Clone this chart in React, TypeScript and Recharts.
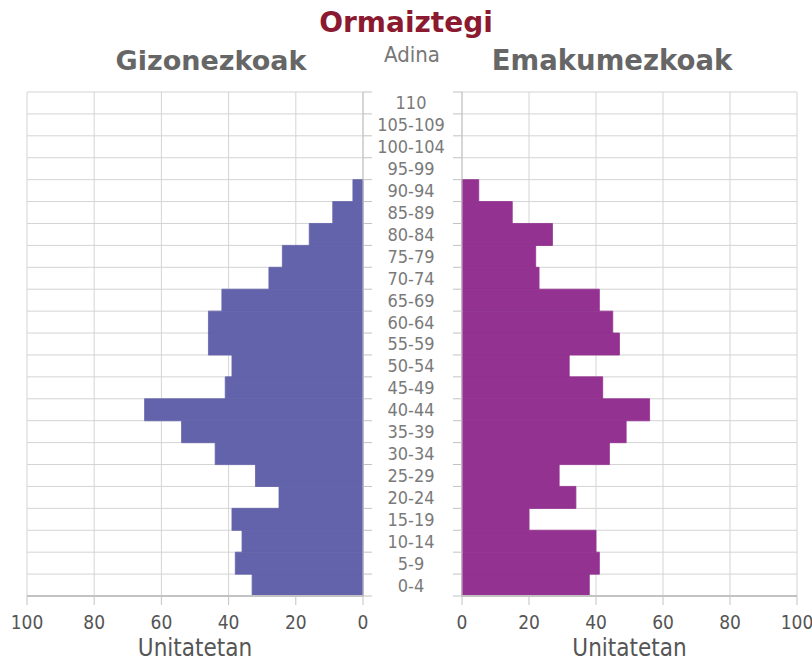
import { BarChart, Bar, XAxis, YAxis, CartesianGrid } from 'recharts';

// Age groups, top to bottom
const ageGroups = [
  '110', '105-109', '100-104', '95-99', '90-94', '85-89', '80-84', '75-79',
  '70-74', '65-69', '60-64', '55-59', '50-54', '45-49', '40-44', '35-39',
  '30-34', '25-29', '20-24', '15-19', '10-14', '5-9', '0-4',
];
const maleValues = [0, 0, 0, 0, 3, 9, 16, 24, 28, 42, 46, 46, 39, 41, 65, 54, 44, 32, 25, 39, 36, 38, 33];
const femaleValues = [0, 0, 0, 0, 5, 15, 27, 22, 23, 41, 45, 47, 32, 42, 56, 49, 44, 29, 34, 20, 40, 41, 38];

const xTicks = [0, 20, 40, 60, 80, 100];

const chartData = ageGroups.map((age, i) => ({
  age,
  male: maleValues[i],
  female: femaleValues[i],
}));

const FONT = "'DejaVu Sans Condensed', 'DejaVu Sans', sans-serif";
const BOLD_FONT = "'DejaVu Sans', sans-serif";
const MALE_COLOR = '#6363ab';
const FEMALE_COLOR = '#933291';
const GRID_COLOR = '#d4d4d4';
const AXIS_COLOR = '#c2c2c2';
const TICK_COLOR = '#555';

// horizontal grid lines sit on the edges of the age bands
const bandEdges = ({ yAxis }: any) => {
  const scale = yAxis?.scale;
  if (!scale) return [];
  const f = typeof scale === 'function' ? scale : (v: string) => scale.map(v);
  const bw = typeof scale.bandwidth === 'function' ? scale.bandwidth() : 0;
  const edges = ageGroups.map((a) => f(a));
  edges.push(f(ageGroups[ageGroups.length - 1]) + bw);
  return edges;
};

// small tick marks on band edges, optional label in the middle column
const AgeTick = ({ y, payload, index, markFrom, markTo, labelX }: any) => {
  const half = payload?.offset ?? 0;
  const last = index === ageGroups.length - 1;
  return (
    <g>
      <line x1={markFrom} x2={markTo} y1={y - half} y2={y - half} stroke={AXIS_COLOR} />
      {last && <line x1={markFrom} x2={markTo} y1={y + half} y2={y + half} stroke={AXIS_COLOR} />}
      {labelX !== undefined && (
        <text
          x={labelX}
          y={y}
          dy="0.36em"
          textAnchor="middle"
          fill="#7a7a7a"
          fontSize={18}
          fontFamily={FONT}
        >
          {payload.value}
        </text>
      )}
    </g>
  );
};

const xTickStyle = { fill: TICK_COLOR, fontSize: 19, fontFamily: FONT };
const unitLabel = {
  value: 'Unitatetan',
  position: 'insideBottom' as const,
  offset: 0,
  fill: '#555',
  fontSize: 24,
  fontFamily: FONT,
};

export default function App() {
  return (
    <div style={{ position: 'absolute', left: 0, top: 0, width: 812, height: 661, background: '#fff', fontFamily: FONT }}>
      <svg width={812} height={90} style={{ position: 'absolute', left: 0, top: 0 }}>
        <text x={406} y={32} textAnchor="middle" fill="#8b1a30" fontSize={28} fontWeight="bold" fontFamily={BOLD_FONT}>
          Ormaiztegi
        </text>
        <text x={211} y={70} textAnchor="middle" fill="#666" fontSize={27} fontWeight="bold" fontFamily={BOLD_FONT}>
          Gizonezkoak
        </text>
        <text x={412} y={62} textAnchor="middle" fill="#777" fontSize={22} fontFamily={FONT}>
          Adina
        </text>
        <text x={612} y={70} textAnchor="middle" fill="#666" fontSize={27.5} fontWeight="bold" fontFamily={BOLD_FONT}>
          Emakumezkoak
        </text>
      </svg>

      {/* Gizonezkoak (left, reversed axis) */}
      <div style={{ position: 'absolute', left: 0, top: 0 }}>
        <BarChart
          width={380}
          height={661}
          data={chartData}
          layout="vertical"
          barCategoryGap={0}
          barGap={0}
          margin={{ top: 92, right: 5, left: 27, bottom: 5 }}
        >
          <CartesianGrid stroke={GRID_COLOR} horizontalCoordinatesGenerator={bandEdges} />
          <XAxis
            type="number"
            domain={[0, 100]}
            ticks={xTicks}
            reversed
            height={60}
            tick={xTickStyle}
            tickSize={9}
            tickMargin={11}
            stroke={AXIS_COLOR}
            axisLine={{ stroke: AXIS_COLOR, strokeWidth: 2 }}
            label={unitLabel}
          />
          <YAxis
            type="category"
            dataKey="age"
            orientation="right"
            width={12}
            interval={0}
            tickLine={false}
            axisLine={{ stroke: AXIS_COLOR }}
            tick={<AgeTick markFrom={363} markTo={372} />}
          />
          <Bar dataKey="male" fill={MALE_COLOR} stroke={MALE_COLOR} strokeWidth={0.8} isAnimationActive={false} />
        </BarChart>
      </div>

      {/* Emakumezkoak (right) */}
      <div style={{ position: 'absolute', left: 370, top: 0 }}>
        <BarChart
          width={442}
          height={661}
          data={chartData}
          layout="vertical"
          barCategoryGap={0}
          barGap={0}
          margin={{ top: 92, right: 15, left: 0, bottom: 5 }}
        >
          <CartesianGrid stroke={GRID_COLOR} horizontalCoordinatesGenerator={bandEdges} />
          <XAxis
            type="number"
            domain={[0, 100]}
            ticks={xTicks}
            height={60}
            tick={xTickStyle}
            tickSize={9}
            tickMargin={11}
            stroke={AXIS_COLOR}
            axisLine={{ stroke: AXIS_COLOR, strokeWidth: 2 }}
            label={unitLabel}
          />
          <YAxis
            type="category"
            dataKey="age"
            width={92}
            interval={0}
            tickLine={false}
            axisLine={{ stroke: AXIS_COLOR }}
            tick={<AgeTick markFrom={83} markTo={92} labelX={41} />}
          />
          <Bar dataKey="female" fill={FEMALE_COLOR} stroke={FEMALE_COLOR} strokeWidth={0.8} isAnimationActive={false} />
        </BarChart>
      </div>
    </div>
  );
}
